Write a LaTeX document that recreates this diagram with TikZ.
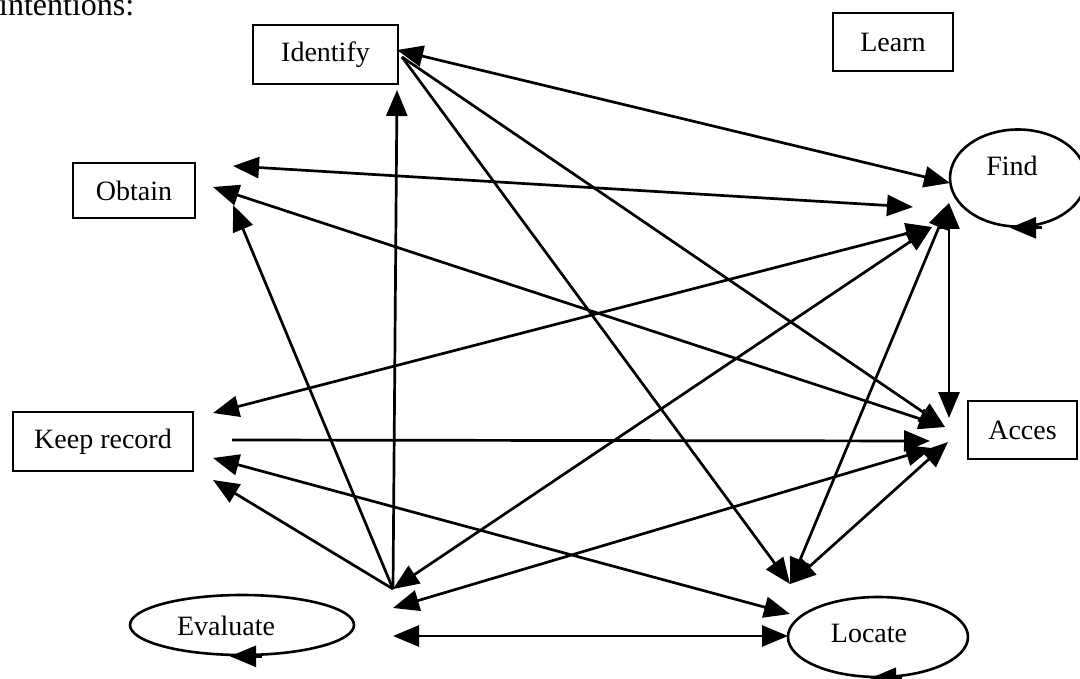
\documentclass[tikz,border=0pt]{standalone}
\usepackage{fontspec}
\setmainfont{Liberation Serif}
\usetikzlibrary{arrows.meta,shapes.geometric}
\begin{document}
\begin{tikzpicture}[x=1pt,y=-1pt,
  >={Triangle[length=26pt,width=21pt]},
  lbl/.style={font=\fontsize{28}{33}\selectfont},
  box/.style={draw, line width=2.3pt, rectangle, inner sep=0pt, lbl},
  oval/.style={draw, line width=2.6pt, ellipse, inner sep=0pt},
  con/.style={line width=2.7pt},
  both/.style={con, <->},
  one/.style={con, ->},
]
\useasboundingbox (0,0) rectangle (1080,679);
\clip (0,0) rectangle (1080,679);

% heading
\node[anchor=base west, inner sep=0pt, font=\fontsize{32}{38}\selectfont] (intent) at (-1,16) {intentions:};

% rectangular intentions
\node[box, minimum width=145pt, minimum height=59pt] (identify) at (325.5,54.5) {Identify};
\node[box, minimum width=120pt, minimum height=58pt] (learn) at (893,42) {Learn};
\node[box, minimum width=122pt, minimum height=55pt] (obtain) at (134,190.5) {Obtain};
\node[box, minimum width=180pt, minimum height=59pt] (keep) at (103,441.5) {Keep record};
\node[box, minimum width=109pt, minimum height=58pt] (acces) at (1022.5,430) {Acces};

% oval intentions with a loop back onto themselves
\node[oval, minimum width=136pt, minimum height=97pt,
      label={[lbl, xshift=-6pt, yshift=12pt]center:Find}] (find) at (1018,178) {};
\node[oval, minimum width=224pt, minimum height=60pt,
      label={[lbl, xshift=-16pt, yshift=-1pt]center:Evaluate}] (evaluate) at (242,625) {};
\node[oval, minimum width=180pt, minimum height=80pt,
      label={[lbl, xshift=-9pt, yshift=4pt]center:Locate}] (locate) at (878,637) {};

\draw[one] ([xshift=24pt]find.south) -- ([xshift=-8pt]find.south);
\draw[one] ([xshift=20pt]evaluate.south) -- ([xshift=-12pt]evaluate.south);
\draw[one] ([xshift=24pt]locate.south) -- ([xshift=-8pt]locate.south);

% connector end points
\coordinate (id-e) at (397,50);
\coordinate (id-se) at (402,57);
\coordinate (id-s) at (397,90);
\coordinate (ob-e1) at (233,166);
\coordinate (ob-e2) at (213,187);
\coordinate (ob-e3) at (233,205);
\coordinate (kr-e1) at (213,413);
\coordinate (kr-e2) at (232,440);
\coordinate (kr-e3) at (213,458);
\coordinate (kr-e4) at (213,480);
\coordinate (fi-w1) at (950,183);
\coordinate (fi-w2) at (913,207);
\coordinate (fi-w3) at (932,227);
\coordinate (fi-s) at (949,203);
\coordinate (ac-n) at (949,418);
\coordinate (ac-w1) at (945,427);
\coordinate (ac-w2) at (930,441);
\coordinate (ac-w3) at (932,448);
\coordinate (ac-w4) at (948,442);
\coordinate (ev-n) at (393,589);
\coordinate (ev-e1) at (393,608);
\coordinate (ev-e2) at (393,636);
\coordinate (lo-w1) at (790,614);
\coordinate (lo-w2) at (788,636);
\coordinate (lo-n) at (790,584);

% relations
\draw[both] (id-e) -- (fi-w1);
\draw[one] (id-se) -- (ac-w1);
\draw[one] (id-se) -- (lo-n);
\draw[both] (ob-e1) -- (fi-w2);
\draw[both] (ob-e2) -- (ac-w1);
\draw[both] (kr-e1) -- (fi-w3);
\draw[one] (kr-e2) -- (ac-w2);
\draw[both] (kr-e3) -- (lo-w1);
\draw[both] (fi-s) -- (ac-n);
\draw[one] (ev-n) -- (id-s);
\draw[one] (ev-n) -- (ob-e3);
\draw[one] (ev-n) -- (kr-e4);
\draw[both] (ev-n) -- (fi-w3);
\draw[both] (ev-e1) -- (ac-w3);
\draw[both] (ev-e2) -- (lo-w2);
\draw[both] (lo-n) -- (fi-s);
\draw[both] (lo-n) -- (ac-w4);
\end{tikzpicture}
\end{document}
